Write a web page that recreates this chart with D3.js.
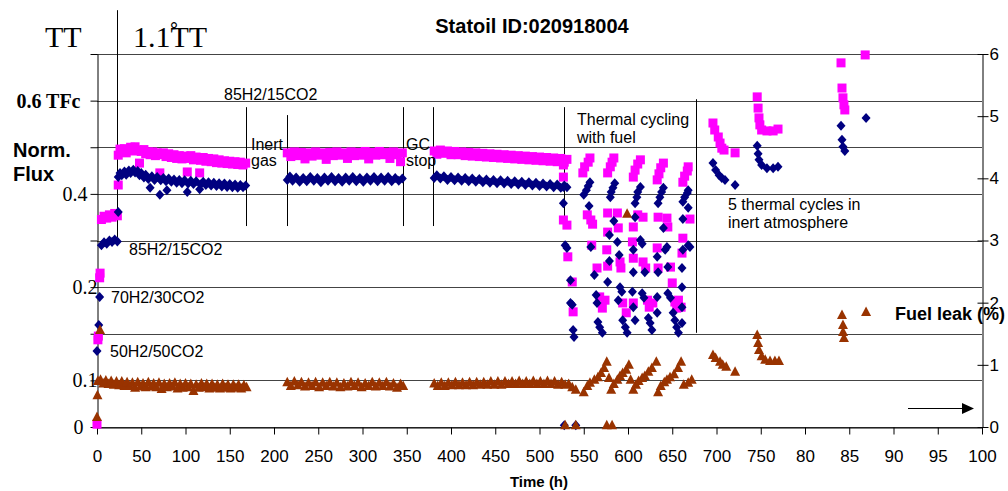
<!DOCTYPE html>
<html>
<head>
<meta charset="utf-8">
<script src="https://cdn.jsdelivr.net/npm/d3@7"></script>
<style>
    body { margin: 0; background: #fff; }
    svg { display: block; }
    text { font-family: Arial, "Liberation Sans", sans-serif; fill: #000; }
</style>
</head>
<body>
<svg id="chart" width="1008" height="491"></svg>
<script>
const xTickValues = d3.range(0, 1001, 50);
const xTickLabels = ['0', '50', '100', '150', '200', '250', '300', '350', '400', '450', '500',
    '550', '600', '650', '700', '750', '80', '85', '90', '95', '100'];
const leftTickValues = [0, 0.1, 0.2, 0.3, 0.4, 0.5, 0.6, 0.7, 0.8];
const leftTickLabels = ['0', '0.1', '', '0.2', '', '0.4', '', '0.6 TFc', ''];
const rightTickValues = [0, 1, 2, 3, 4, 5, 6];

// normalised flux, magenta squares  [time h, flux]
const pinkStart = [[0, 0.006], [1, 0.187], [1.5, 0.195], [3, 0.320], [3.5, 0.330], [5, 0.445], [8, 0.452],
    [11, 0.448], [14, 0.455], [17, 0.450], [20, 0.458], [23, 0.453], [24, 0.519]];
const pinkSeg1 = [[24, 0.583], [26, 0.596], [28, 0.590], [31, 0.597], [33, 0.588], [36, 0.595], [38, 0.600],
    [41, 0.592], [43, 0.601], [46, 0.594], [48, 0.566], [50, 0.591], [53, 0.595], [55, 0.586], [58, 0.590],
    [60, 0.584], [63, 0.590], [66, 0.582], [68, 0.588], [71, 0.545], [72, 0.584], [75, 0.588], [78, 0.580],
    [81, 0.586], [84, 0.578], [87, 0.584], [90, 0.576], [93, 0.582], [96, 0.575], [99, 0.581], [102, 0.547],
    [103, 0.576], [106, 0.582], [109, 0.573], [112, 0.579], [116, 0.545], [117, 0.572], [120, 0.578],
    [123, 0.570], [126, 0.576], [129, 0.569], [132, 0.575], [135, 0.567], [138, 0.573], [141, 0.566],
    [144, 0.571], [147, 0.565], [150, 0.570], [153, 0.564], [156, 0.569], [159, 0.563], [162, 0.568],
    [165, 0.562], [168, 0.566]];
const pinkSeg2 = [[215, 0.588], [219, 0.580], [223, 0.590], [227, 0.582], [231, 0.589], [235, 0.575],
    [239, 0.588], [243, 0.581], [247, 0.590], [251, 0.583], [255, 0.588], [259, 0.574], [263, 0.589],
    [267, 0.582], [271, 0.590], [275, 0.583], [279, 0.588], [283, 0.576], [287, 0.590], [291, 0.582],
    [295, 0.589], [299, 0.583], [303, 0.591], [307, 0.575], [311, 0.589], [315, 0.583], [319, 0.591],
    [323, 0.584], [327, 0.589], [331, 0.576], [335, 0.590], [339, 0.584], [343, 0.569], [345, 0.588]];
const pinkSeg3 = [[381, 0.592], [384, 0.585], [388, 0.594], [392, 0.587], [396, 0.592], [400, 0.584],
    [404, 0.591], [408, 0.584], [412, 0.590], [416, 0.582], [420, 0.589], [424, 0.581], [428, 0.588],
    [432, 0.580], [436, 0.587], [440, 0.579], [444, 0.586], [448, 0.578], [452, 0.585], [456, 0.577],
    [460, 0.584], [464, 0.576], [468, 0.583], [472, 0.575], [476, 0.582], [480, 0.574], [484, 0.581],
    [488, 0.573], [492, 0.580], [496, 0.572], [500, 0.579], [504, 0.571], [508, 0.578], [512, 0.570],
    [516, 0.577], [520, 0.569], [524, 0.576], [528, 0.568], [531, 0.574]];
const pinkCycling = [[527, 0.562], [527, 0.536], [527, 0.444], [531, 0.433], [532, 0.365], [537, 0.311], [538, 0.247],
    [549, 0.545], [551, 0.558], [555, 0.568], [557, 0.577], [554, 0.455], [558, 0.444], [560, 0.435], [559, 0.390],
    [565, 0.341], [568, 0.279], [571, 0.255], [574, 0.272],
    [577, 0.545], [580, 0.558], [582, 0.568], [584, 0.577], [577, 0.459], [588, 0.459], [589, 0.427], [577, 0.418],
    [576, 0.380], [577, 0.345], [591, 0.354], [592, 0.341], [594, 0.266], [598, 0.245],
    [606, 0.536], [608, 0.551], [611, 0.564], [614, 0.573], [611, 0.455], [617, 0.450], [606, 0.429], [605, 0.397],
    [606, 0.362], [617, 0.354], [620, 0.341], [606, 0.266], [622, 0.272], [624, 0.257],
    [633, 0.530], [635, 0.543], [637, 0.556], [640, 0.566], [634, 0.450], [644, 0.448], [645, 0.429], [633, 0.384],
    [634, 0.341], [648, 0.343], [650, 0.309], [628, 0.266], [653, 0.268], [655, 0.255],
    [662, 0.525], [664, 0.538], [667, 0.549], [668, 0.558], [670, 0.446], [662, 0.405], [661, 0.373], [657, 0.272],
    [660, 0.257]];
const pinkInert = [[696, 0.652], [698, 0.637], [702, 0.622], [704, 0.609], [706, 0.598], [708.5, 0.594], [721, 0.588],
    [746, 0.708], [747, 0.684], [748, 0.663], [749, 0.648], [751, 0.637], [757, 0.635], [764, 0.635], [769.5, 0.639],
    [840.7, 0.781], [841.8, 0.727], [842.9, 0.706], [844, 0.691], [845, 0.680], [868, 0.798]];

// normalised flux, navy diamonds
const navyStart = [[0, 0.163], [2, 0.219], [3, 0.279], [5, 0.390], [8, 0.396], [11, 0.393], [14, 0.400],
    [17, 0.397], [20, 0.402], [23, 0.398], [24, 0.461]];
const navySeg1 = [[24, 0.536], [26, 0.545], [28, 0.540], [31, 0.548], [33, 0.541], [36, 0.550], [38, 0.545],
    [41, 0.552], [43, 0.546], [46, 0.549], [48, 0.540], [50, 0.545], [53, 0.535], [55, 0.541], [58, 0.532],
    [60, 0.513], [62, 0.538], [65, 0.530], [68, 0.536], [71, 0.498], [72, 0.529], [75, 0.534], [78, 0.527],
    [79, 0.508], [81, 0.533], [84, 0.526], [87, 0.531], [90, 0.524], [93, 0.530], [96, 0.523], [99, 0.529],
    [102, 0.504], [103, 0.522], [106, 0.528], [109, 0.521], [112, 0.527], [116, 0.510], [117, 0.520],
    [120, 0.526], [123, 0.519], [126, 0.525], [129, 0.518], [132, 0.524], [135, 0.517], [138, 0.523],
    [141, 0.516], [144, 0.522], [147, 0.515], [150, 0.521], [153, 0.514], [156, 0.520], [159, 0.513],
    [162, 0.519], [165, 0.514], [168, 0.518]];
const navySeg2 = [[215, 0.530], [218, 0.537], [221, 0.528], [225, 0.535], [229, 0.526], [233, 0.534],
    [237, 0.527], [241, 0.536], [245, 0.528], [249, 0.534], [253, 0.525], [257, 0.535], [261, 0.528],
    [265, 0.536], [269, 0.527], [273, 0.534], [277, 0.526], [281, 0.535], [285, 0.528], [289, 0.536],
    [293, 0.527], [297, 0.534], [301, 0.526], [305, 0.535], [309, 0.528], [313, 0.536], [317, 0.527],
    [321, 0.535], [325, 0.528], [329, 0.536], [333, 0.527], [337, 0.534], [341, 0.528], [345, 0.533]];
const navySeg3 = [[381, 0.534], [384, 0.540], [388, 0.533], [392, 0.538], [396, 0.530], [400, 0.536],
    [404, 0.529], [408, 0.535], [412, 0.528], [416, 0.534], [420, 0.527], [424, 0.533], [428, 0.526],
    [432, 0.532], [436, 0.525], [440, 0.531], [444, 0.524], [448, 0.530], [452, 0.523], [456, 0.529],
    [460, 0.522], [464, 0.528], [468, 0.521], [472, 0.527], [476, 0.520], [480, 0.526], [484, 0.519],
    [488, 0.525], [492, 0.518], [496, 0.524], [500, 0.517], [504, 0.522], [508, 0.516], [512, 0.521],
    [516, 0.514], [520, 0.520], [524, 0.513], [528, 0.518], [531, 0.514]];
const navyCycling = [[527, 0.515], [527, 0.480], [529, 0.390], [531, 0.384], [535, 0.315], [535, 0.266],
    [537, 0.262], [538, 0.208], [539, 0.193],
    [550, 0.498], [553, 0.508], [555, 0.517], [557, 0.525], [556, 0.474], [558, 0.386], [562, 0.326],
    [564, 0.283], [565, 0.266], [566, 0.225], [568, 0.214], [571, 0.202],
    [580, 0.493], [581, 0.504], [583, 0.513], [585, 0.523], [584, 0.442], [579, 0.412], [588, 0.397],
    [590, 0.369], [579, 0.356], [577, 0.311], [591, 0.300], [593, 0.290], [589, 0.272], [594, 0.229],
    [597, 0.214], [599, 0.202],
    [608, 0.480], [610, 0.493], [611, 0.504], [614, 0.515], [608, 0.450], [614, 0.401], [616, 0.393],
    [606, 0.380], [606, 0.332], [619, 0.332], [605, 0.290], [616, 0.287], [618, 0.277], [606, 0.257],
    [608, 0.229], [623, 0.234], [625, 0.223], [627, 0.208],
    [634, 0.480], [636, 0.493], [638, 0.504], [640, 0.513], [640, 0.427], [644, 0.386], [642, 0.380],
    [633, 0.365], [634, 0.332], [645, 0.343], [633, 0.279], [645, 0.287], [648, 0.277], [633, 0.245],
    [651, 0.245], [653, 0.229], [655, 0.214], [657, 0.202],
    [662, 0.483], [664, 0.493], [667, 0.502], [668, 0.508], [668, 0.470], [662, 0.446], [668, 0.390],
    [670, 0.386], [662, 0.380], [661, 0.341], [661, 0.300], [661, 0.257], [661, 0.223]];
const navyZero = [[528, 0.004], [541, 0.004]];
const navyInert = [[696, 0.566], [699, 0.551], [703, 0.540], [706, 0.534], [709.6, 0.530], [721, 0.519],
    [746, 0.603], [747, 0.586], [748, 0.573], [751, 0.562], [757, 0.555], [764, 0.555], [769.5, 0.558],
    [840.7, 0.646], [841.8, 0.616], [842.9, 0.601], [845, 0.592], [869, 0.663]];

// fuel leak %, brown triangles (right axis)
const leakStart = [[0, 0.16], [0.5, 0.51], [3.4, 1.56]];
const leakSeg1 = [[1, 0.74], [4, 0.76], [7, 0.70], [10, 0.75], [13, 0.69], [16, 0.74], [19, 0.68], [22, 0.73],
    [25, 0.67], [28, 0.73], [31, 0.66], [34, 0.72], [37, 0.66], [40, 0.71], [43, 0.63], [46, 0.72], [49, 0.65],
    [52, 0.70], [55, 0.64], [58, 0.72], [61, 0.65], [64, 0.70], [67, 0.64], [70, 0.71], [73, 0.61], [76, 0.69],
    [79, 0.64], [82, 0.70], [85, 0.65], [88, 0.71], [91, 0.62], [94, 0.69], [97, 0.63], [100, 0.70], [103, 0.64],
    [106, 0.69], [109, 0.58], [112, 0.68], [115, 0.63], [118, 0.70], [121, 0.64], [124, 0.69], [127, 0.62],
    [130, 0.69], [133, 0.63], [136, 0.68], [139, 0.62], [142, 0.69], [145, 0.63], [148, 0.68], [151, 0.62],
    [154, 0.68], [157, 0.63], [160, 0.68], [163, 0.62], [166, 0.67], [169, 0.64]];
const leakSeg2 = [[215, 0.72], [219, 0.66], [223, 0.73], [227, 0.67], [231, 0.72], [235, 0.65], [239, 0.71],
    [243, 0.66], [247, 0.72], [251, 0.64], [255, 0.71], [259, 0.66], [263, 0.72], [267, 0.65], [271, 0.71],
    [275, 0.64], [279, 0.70], [283, 0.65], [287, 0.72], [291, 0.66], [295, 0.71], [299, 0.64], [303, 0.70],
    [307, 0.66], [311, 0.72], [315, 0.65], [319, 0.71], [323, 0.66], [327, 0.72], [331, 0.65], [335, 0.70],
    [339, 0.63], [343, 0.69], [346, 0.66]];
const leakSeg3 = [[381, 0.70], [385, 0.66], [389, 0.71], [393, 0.66], [397, 0.71], [401, 0.67], [405, 0.72],
    [409, 0.67], [413, 0.71], [417, 0.67], [421, 0.72], [425, 0.67], [429, 0.72], [433, 0.68], [437, 0.72],
    [441, 0.68], [445, 0.73], [449, 0.68], [453, 0.73], [457, 0.68], [461, 0.73], [465, 0.69], [469, 0.73],
    [473, 0.69], [477, 0.74], [481, 0.69], [485, 0.73], [489, 0.69], [493, 0.74], [497, 0.69], [501, 0.73],
    [505, 0.69], [509, 0.74], [513, 0.69], [517, 0.73], [521, 0.68], [525, 0.72], [529, 0.68], [533, 0.69],
    [537, 0.64], [541, 0.60]];
const leakCycling = [[550, 0.56], [554, 0.66], [557, 0.71], [562, 0.76], [566, 0.80], [569.5, 0.87], [573, 0.95],
    [576, 1.05], [578.5, 0.79], [581, 0.60], [584, 0.69], [588, 0.76], [591, 0.82], [594, 0.87], [598, 0.92],
    [601, 1.00], [603, 0.76], [606, 0.60], [609, 0.68], [612, 0.74], [616, 0.79], [619, 0.82], [623, 0.89],
    [627, 0.95], [632, 1.05], [634, 0.56], [637, 0.66], [641, 0.72], [644, 0.76], [647.5, 0.80], [652, 0.85],
    [656.5, 0.95], [660, 1.05], [663, 0.68], [668, 0.71], [672, 0.76], [599, 3.43]];
const leakZero = [[529, 0.03], [541, 0.03], [576, 0.03], [582, 0.03]];
const leakInert = [[696, 1.16], [699, 1.11], [704, 1.05], [707, 1.00], [711, 0.97], [721, 0.89],
    [746, 1.48], [747, 1.35], [748, 1.24], [751, 1.14], [755, 1.08], [760.5, 1.06], [766, 1.06], [770.6, 1.06],
    [841.8, 1.80], [842.9, 1.64], [843, 1.53], [844, 1.43], [869, 1.85]];

// event markers: [time h, top flux, bottom flux]
const eventLines = [[23, 0.894, 0.390], [168, 0.686, 0.431], [215, 0.669, 0.431], [346, 0.686, 0.431],
    [380, 0.686, 0.431], [528, 0.686, 0.448], [677, 0.703, 0.202]];

const svg = d3.select('#chart');
svg.append('rect').attr('width', 1008).attr('height', 491).attr('fill', '#fff');

const x = d3.scaleLinear().domain([0, 1000]).range([97, 982]);
const yL = d3.scaleLinear().domain([0, 0.8]).range([427, 54]);
const yR = d3.scaleLinear().domain([0, 6]).range([427, 54]);

// horizontal grid
svg.append('g')
    .selectAll('line')
    .data(leftTickValues)
    .join('line')
    .attr('x1', x(0)).attr('x2', x(1000))
    .attr('y1', d => Math.round(yL(d)) + 0.5)
    .attr('y2', d => Math.round(yL(d)) + 0.5)
    .attr('stroke', '#444')
    .attr('stroke-width', 1);

// left axis
let leftAxis = svg.append('g')
    .attr('transform', 'translate(97.5,0)')
    .call(d3.axisLeft(yL).tickValues(leftTickValues).tickSize(7).tickSizeOuter(0)
        .tickFormat((d, i) => leftTickLabels[i]));
leftAxis.selectAll('text')
    .style('font-family', '"Liberation Serif", "Times New Roman", serif')
    .style('font-size', '20px')
    .attr('x', (d, i) => [-14, 0, 0, 0, 0, -10, 0, -17, 0][i])
    .style('font-weight', (d, i) => i === 7 ? 'bold' : 'normal');

// bottom axis
let bottomAxis = svg.append('g')
    .attr('transform', 'translate(0,427.5)')
    .call(d3.axisBottom(x).tickValues(xTickValues).tickSize(7).tickSizeOuter(0)
        .tickFormat((d, i) => xTickLabels[i]));
bottomAxis.selectAll('text').attr('y', 22).style('font-size', '17px');

// right axis
let rightAxis = svg.append('g')
    .attr('transform', 'translate(982.5,0)')
    .call(d3.axisRight(yR).tickValues(rightTickValues).tickSize(6).tickSizeOuter(0)
        .tickFormat(d3.format('d')));
rightAxis.selectAll('.tick line').attr('x1', -5);
rightAxis.selectAll('text').attr('x', 7).style('font-size', '17px');

svg.selectAll('.domain').attr('stroke', '#000');
svg.selectAll('.tick line').attr('stroke', '#000');

// event lines
svg.append('g')
    .selectAll('line')
    .data(eventLines)
    .join('line')
    .attr('x1', d => Math.round(x(d[0])) + 0.5)
    .attr('x2', d => Math.round(x(d[0])) + 0.5)
    .attr('y1', d => yL(d[1]))
    .attr('y2', d => yL(d[2]))
    .attr('stroke', '#000');

// markers
function drawSquares(data, color) {
    svg.append('g').selectAll('rect')
        .data(data)
        .join('rect')
        .attr('x', d => x(d[0]) - 4.5)
        .attr('y', d => yL(d[1]) - 4.5)
        .attr('width', 9).attr('height', 9)
        .attr('fill', color);
}

function drawDiamonds(data, color) {
    svg.append('g').selectAll('path')
        .data(data)
        .join('path')
        .attr('transform', d => 'translate(' + x(d[0]) + ',' + yL(d[1]) + ')')
        .attr('d', 'M0,-5L4.5,0L0,5L-4.5,0Z')
        .attr('fill', color);
}

function drawTriangles(data, color) {
    svg.append('g').selectAll('path')
        .data(data)
        .join('path')
        .attr('transform', d => 'translate(' + x(d[0]) + ',' + yR(d[1]) + ')')
        .attr('d', 'M0,-5.5L5,4L-5,4Z')
        .attr('fill', color);
}

drawSquares([].concat(pinkStart, pinkSeg1, pinkSeg2, pinkSeg3, pinkCycling, pinkInert), '#ff00ff');
drawDiamonds([].concat(navyStart, navySeg1, navySeg2, navySeg3, navyCycling, navyZero, navyInert), '#000080');
drawTriangles([].concat(leakStart, leakSeg1, leakSeg2, leakSeg3, leakCycling, leakZero, leakInert), '#993300');

// texts
const notes = [
    {t: '85H2/15CO2', x: 224, y: 100},
    {t: 'Inert', x: 251, y: 150}, {t: 'gas', x: 251, y: 166},
    {t: 'GC', x: 406, y: 150}, {t: 'stop', x: 406, y: 166},
    {t: 'Thermal cycling', x: 577, y: 125}, {t: 'with fuel', x: 577, y: 143},
    {t: '5 thermal cycles in', x: 728, y: 210}, {t: 'inert atmosphere', x: 728, y: 228},
    {t: '85H2/15CO2', x: 129, y: 255},
    {t: '70H2/30CO2', x: 111, y: 303},
    {t: '50H2/50CO2', x: 110, y: 357}
];
svg.append('g').selectAll('text')
    .data(notes)
    .join('text')
    .attr('x', d => d.x).attr('y', d => d.y)
    .style('font-size', '16px')
    .text(d => d.t);

svg.append('text').attr('x', 532).attr('y', 33).attr('text-anchor', 'middle')
    .style('font-size', '20px').style('font-weight', 'bold').text('Statoil ID:020918004');

svg.append('text').attr('x', 13).attr('y', 157)
    .style('font-size', '20px').style('font-weight', 'bold').text('Norm.');
svg.append('text').attr('x', 13).attr('y', 181)
    .style('font-size', '20px').style('font-weight', 'bold').text('Flux');

const serif = '"Liberation Serif", "Times New Roman", serif';
svg.append('text').attr('x', 45).attr('y', 47)
    .style('font-family', serif).style('font-size', '30px').text('TT');
svg.append('text').attr('x', 133).attr('y', 47)
    .style('font-family', serif).style('font-size', '30px').text('1.1TT');
svg.append('text').attr('x', 174).attr('y', 44).attr('text-anchor', 'middle')
    .style('font-family', serif).style('font-size', '30px').text('\u02DA');

svg.append('text').attr('x', 1005).attr('y', 320).attr('text-anchor', 'end')
    .style('font-size', '18px').style('font-weight', 'bold').text('Fuel leak (%)');

svg.append('text').attr('x', 539).attr('y', 487).attr('text-anchor', 'middle')
    .style('font-size', '15px').style('font-weight', 'bold').text('Time (h)');

// arrow
svg.append('line').attr('x1', 908).attr('x2', 963).attr('y1', 408.5).attr('y2', 408.5)
    .attr('stroke', '#000').attr('stroke-width', 1.2);
svg.append('path').attr('d', 'M962,403L974,408.5L962,414Z').attr('fill', '#000');
</script>
</body>
</html>
